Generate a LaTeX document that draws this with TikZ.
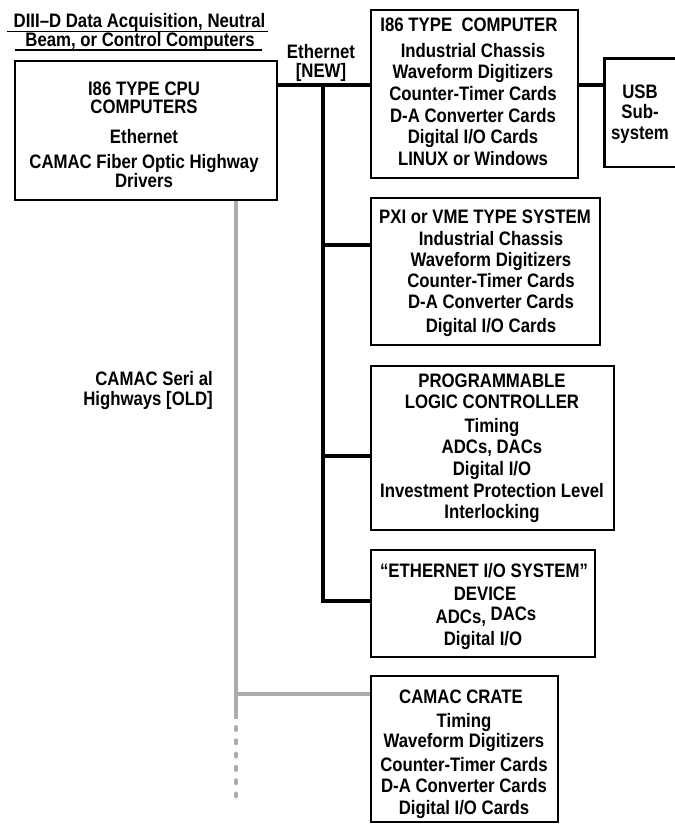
\documentclass[tikz,border=0pt]{standalone}
\usepackage{fontspec}
\setmainfont{Liberation Sans}[FakeStretch=0.86]
\usetikzlibrary{calc}
\definecolor{greyl}{RGB}{172,172,172}
\begin{document}
\begin{tikzpicture}[x=1pt,y=-1pt,
  box/.style={draw, line width=2.6pt, inner sep=0, anchor=north west},
  txt/.style={font=\fontsize{19.5}{21}\selectfont\bfseries, inner sep=0, anchor=base},
  bus/.style={line width=4pt},
  greyline/.style={line width=4pt, draw=greyl},
  uline/.style={line width=1.8pt}]
\useasboundingbox (0,0) rectangle (675,825);

% title
\node[txt] (t1) at (139.5,27) {DIII–D Data Acquisition, Neutral};
\node[txt] (t2) at (140,46.5) {Beam, or Control Computers};
\draw[uline] ($(t1.base west)+(-7,4.5)$) -- ($(t1.base east)+(3,4.5)$);
\draw[uline] ($(t2.base west)+(-10,3.5)$) -- ($(t2.base east)+(7,3.5)$);

% boxes
\node[box, minimum width=262, minimum height=139] (cpu) at (13.5,59.5) {};
\node[box, minimum width=207, minimum height=168] (comp) at (369.5,8.5) {};
\node[inner sep=0, anchor=north west, minimum width=72, minimum height=108] (usb) at (604.5,58.5) {};
\draw[line width=2.6pt] (usb.north east) -- (usb.north west) -- (usb.south west) -- (usb.south east);
\node[box, minimum width=229, minimum height=147] (pxi) at (369.5,196.5) {};
\node[box, minimum width=243, minimum height=164] (plc) at (369.5,364.5) {};
\node[box, minimum width=224, minimum height=107] (eio) at (369.5,548.5) {};
\node[box, minimum width=187, minimum height=146] (camac) at (369.5,674.5) {};

% black ethernet bus
\coordinate (j0) at (323,85);
\coordinate (j1) at (323,245);
\coordinate (j2) at (323,456);
\coordinate (j3) at (323,601);
\draw[bus] (cpu.east |- j0) -- (comp.west |- j0);
\draw[bus] (comp.east |- j0) -- (usb.west |- j0);
\draw[bus] (j0) -- (j3) -- (eio.west |- j3);
\draw[bus] (j1) -- (pxi.west |- j1);
\draw[bus] (j2) -- (plc.west |- j2);

% grey CAMAC serial highway
\coordinate (g0) at (236,694);
\coordinate (g1) at (236,719);
\coordinate (g2) at (236,727);
\coordinate (g3) at (236,801);
\draw[greyline] (cpu.south -| g0) -- (g1);
\draw[greyline] (g0) -- (camac.west |- g0);
\draw[greyline, line cap=round, dash pattern=on 3pt off 10.3pt] (g2) -- (g3);

% labels
\node[txt, align=center, font=\fontsize{19.5}{18.6}\selectfont\bfseries] (eth) at (321,77) {Ethernet\\\relax[NEW]};
\node[txt, anchor=base east] (ser1) at (213,385) {CAMAC Seri al};
\node[txt, anchor=base east] (ser2) at (213,405) {Highways [OLD]};

% cpu text
\foreach \t/\y [count=\i] in {{I86 TYPE CPU}/95, {COMPUTERS}/113, {Ethernet}/143,
  {CAMAC Fiber Optic Highway}/168, {Drivers}/187}
  \node[txt] (cput\i) at (144,\y) {\t};

% i86 computer text
\node[txt] (compt0) at (469,31) {I86 TYPE\ \ COMPUTER};
\foreach \t/\y [count=\i] in {{Industrial Chassis}/57, {Waveform Digitizers}/78,
  {Counter-Timer Cards}/100, {D-A Converter Cards}/122, {Digital I/O Cards}/143,
  {LINUX or Windows}/165}
  \node[txt] (compt\i) at (473,\y) {\t};

% usb
\node[txt] (usbt1) at (640,98) {USB};
\node[txt] (usbt2) at (640,118) {Sub-};
\node[txt] (usbt3) at (640,139) {system};

% pxi
\node[txt] (pxit0) at (485,223) {PXI or VME TYPE SYSTEM};
\foreach \t/\y [count=\i] in {{Industrial Chassis}/245, {Waveform Digitizers}/266,
  {Counter-Timer Cards}/287, {D-A Converter Cards}/308, {Digital I/O Cards}/332}
  \node[txt] (pxit\i) at (491,\y) {\t};

% plc
\foreach \t/\y [count=\i] in {{PROGRAMMABLE}/387, {LOGIC CONTROLLER}/408,
  {Timing}/432, {ADCs, DACs}/453, {Digital I/O}/475,
  {Investment Protection Level}/497, {Interlocking}/518}
  \node[txt] (plct\i) at (492,\y) {\t};

% ethernet i/o
\node[txt] (eiot1) at (484,577) {“ETHERNET I/O SYSTEM”};
\node[txt] (eiot2) at (485,600) {DEVICE};
\node[txt] (eiot3) at (486,623) {ADCs, \raisebox{3pt}{DACs}};
\node[txt] (eiot4) at (483,645) {Digital I/O};

% camac crate
\node[txt] (camt0) at (461,703) {CAMAC CRATE};
\foreach \t/\y [count=\i] in {{Timing}/727, {Waveform Digitizers}/747,
  {Counter-Timer Cards}/771, {D-A Converter Cards}/792, {Digital I/O Cards}/814}
  \node[txt] (camt\i) at (464,\y) {\t};
\end{tikzpicture}
\end{document}
